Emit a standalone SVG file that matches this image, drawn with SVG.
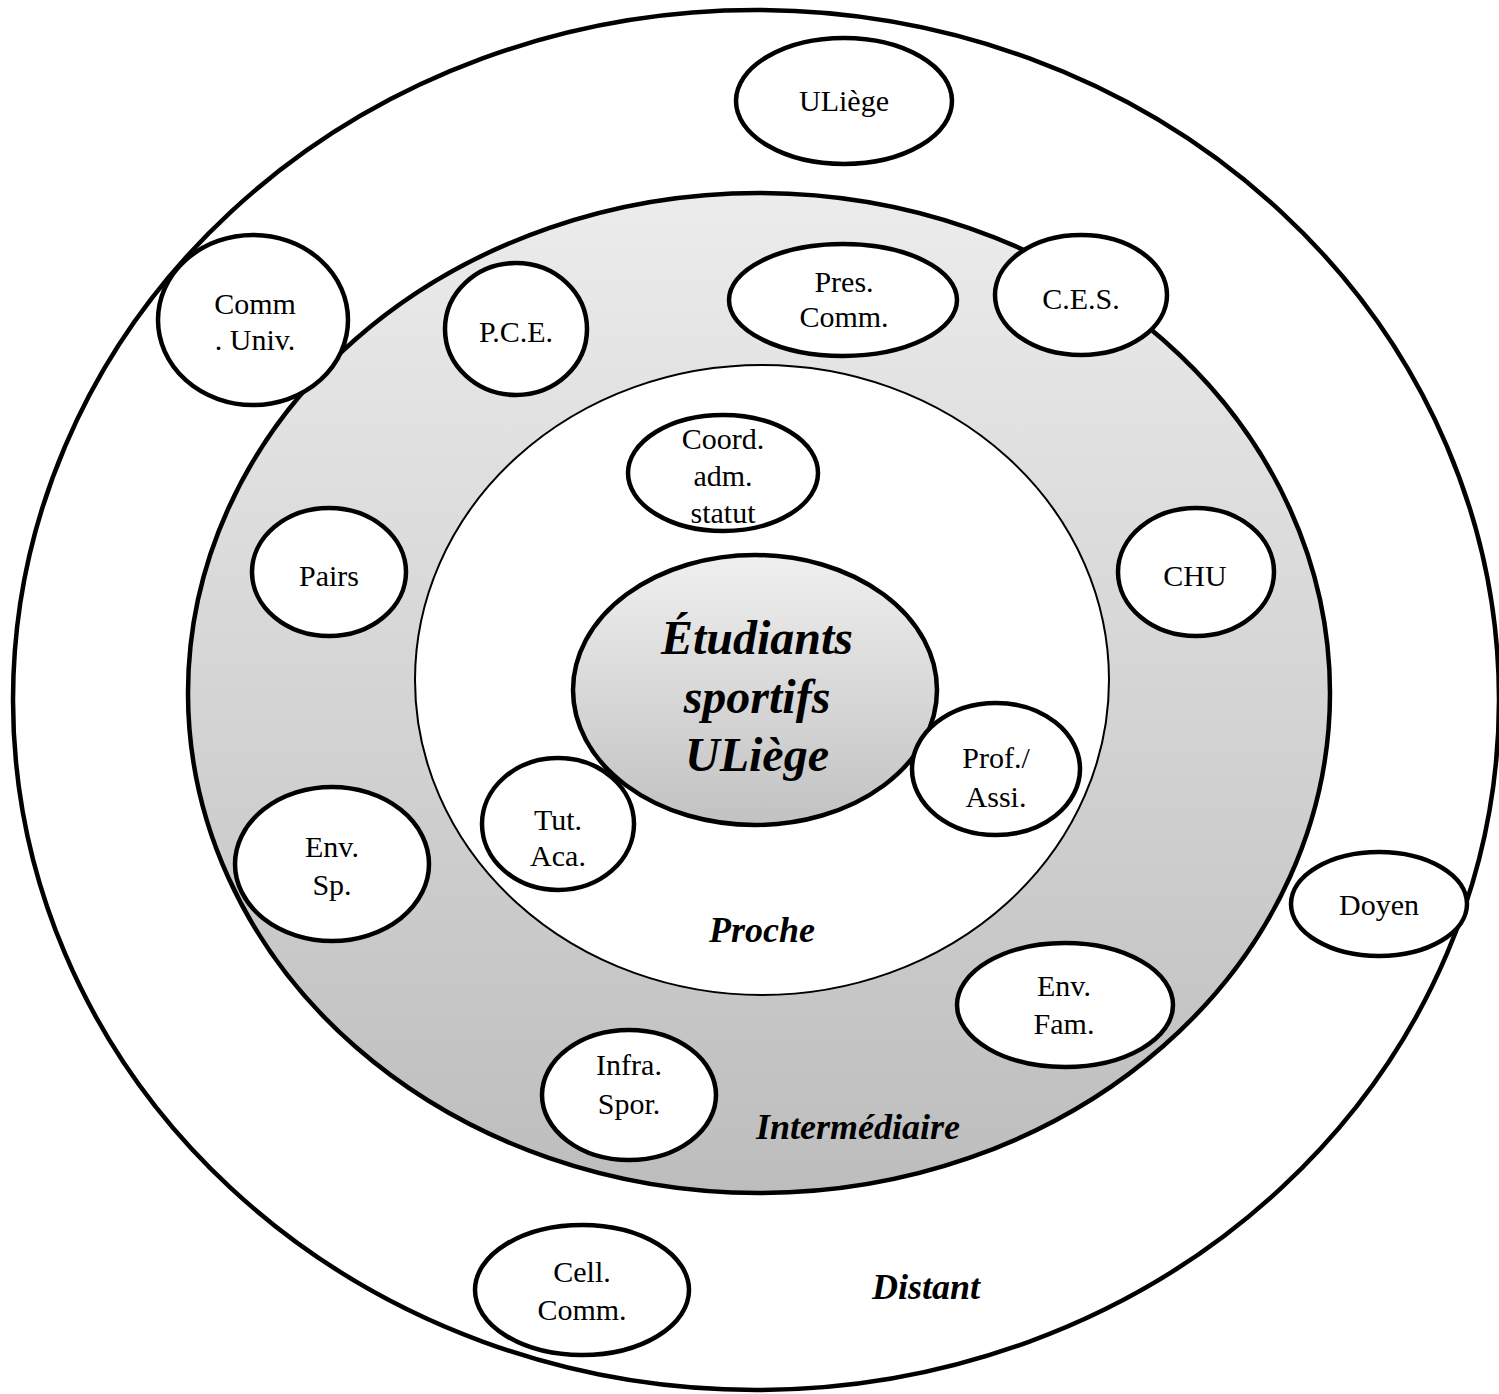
<svg xmlns="http://www.w3.org/2000/svg" width="1499" height="1394" viewBox="0 0 1499 1394">
<defs>
<linearGradient id="ring" x1="0" y1="0" x2="0" y2="1">
<stop offset="0" stop-color="#ececec"/>
<stop offset="1" stop-color="#bdbdbd"/>
</linearGradient>
<linearGradient id="core" x1="0" y1="0" x2="0" y2="1">
<stop offset="0" stop-color="#efefef"/>
<stop offset="1" stop-color="#c2c2c2"/>
</linearGradient>
</defs>
<style>
.n{fill:#fff;stroke:#000;stroke-width:4.5}
text{font-family:'Liberation Serif',Tinos,'DejaVu Serif',serif;fill:#000;text-anchor:middle}
.t{font-size:30px}
.z{font-size:36px;font-weight:bold;font-style:italic}
.c{font-size:48px;font-weight:bold;font-style:italic}
</style>
<rect width="1499" height="1394" fill="#fff"/>
<g id="zones">
<ellipse cx="756" cy="700" rx="743" ry="690" fill="#fff" stroke="#000" stroke-width="4.5"/>
<ellipse cx="759" cy="693" rx="571" ry="500" fill="url(#ring)" stroke="#000" stroke-width="4.5"/>
<ellipse cx="762" cy="680" rx="347" ry="315" fill="#fff" stroke="#000" stroke-width="2"/>
<text class="z" x="762" y="942">Proche</text>
<text class="z" x="858" y="1139">Intermédiaire</text>
<text class="z" x="926" y="1299">Distant</text>
</g>
<g id="connectors"></g>
<g id="center">
<ellipse cx="755" cy="690" rx="182" ry="135" fill="url(#core)" stroke="#000" stroke-width="4.5"/>
<text class="c" x="757" y="654">Étudiants</text>
<text class="c" x="757" y="713">sportifs</text>
<text class="c" x="757" y="771">ULiège</text>
</g>
<g id="uliege"><ellipse class="n" cx="844" cy="101" rx="108" ry="63"/><text class="t" x="844" y="111">ULiège</text></g>
<g id="comm-univ"><ellipse class="n" cx="253" cy="320" rx="95" ry="85"/><text class="t" x="255" y="314">Comm</text><text class="t" x="255" y="350">. Univ.</text></g>
<g id="pce"><ellipse class="n" cx="516" cy="329" rx="71" ry="66"/><text class="t" x="516" y="342">P.C.E.</text></g>
<g id="pres-comm"><ellipse class="n" cx="843" cy="300" rx="114" ry="56"/><text class="t" x="844" y="292">Pres.</text><text class="t" x="844" y="327">Comm.</text></g>
<g id="ces"><ellipse class="n" cx="1081" cy="295" rx="86" ry="60"/><text class="t" x="1081" y="309">C.E.S.</text></g>
<g id="coord"><ellipse class="n" cx="723" cy="473" rx="95" ry="58"/><text class="t" x="723" y="449">Coord.</text><text class="t" x="723" y="486">adm.</text><text class="t" x="723" y="523">statut</text></g>
<g id="pairs"><ellipse class="n" cx="329" cy="572" rx="77" ry="64"/><text class="t" x="329" y="586">Pairs</text></g>
<g id="chu"><ellipse class="n" cx="1196" cy="572" rx="78" ry="64"/><text class="t" x="1195" y="586">CHU</text></g>
<g id="prof"><ellipse class="n" cx="996" cy="769" rx="84" ry="66"/><text class="t" x="996" y="768">Prof./</text><text class="t" x="996" y="807">Assi.</text></g>
<g id="tut"><ellipse class="n" cx="558" cy="824" rx="76" ry="66"/><text class="t" x="558" y="830">Tut.</text><text class="t" x="558" y="866">Aca.</text></g>
<g id="env-sp"><ellipse class="n" cx="332" cy="864" rx="97" ry="77"/><text class="t" x="332" y="857">Env.</text><text class="t" x="332" y="895">Sp.</text></g>
<g id="doyen"><ellipse class="n" cx="1379" cy="904" rx="88" ry="52"/><text class="t" x="1379" y="915">Doyen</text></g>
<g id="env-fam"><ellipse class="n" cx="1065" cy="1005" rx="108" ry="62"/><text class="t" x="1064" y="996">Env.</text><text class="t" x="1064" y="1034">Fam.</text></g>
<g id="infra"><ellipse class="n" cx="629" cy="1095" rx="87" ry="65"/><text class="t" x="629" y="1075">Infra.</text><text class="t" x="629" y="1114">Spor.</text></g>
<g id="cell-comm"><ellipse class="n" cx="582" cy="1290" rx="107" ry="65"/><text class="t" x="582" y="1282">Cell.</text><text class="t" x="582" y="1320">Comm.</text></g>
</svg>
